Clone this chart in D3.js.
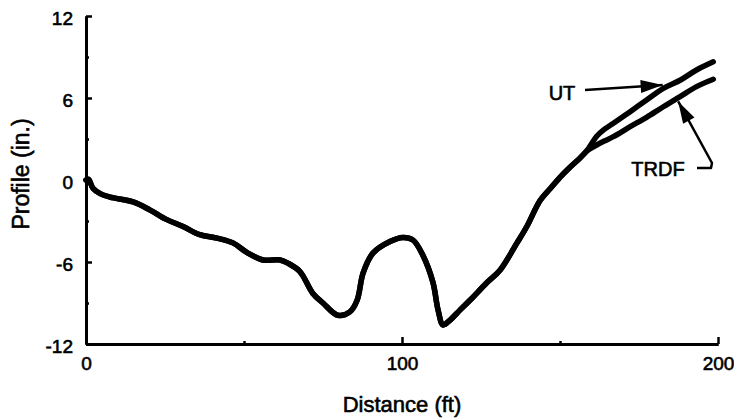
<!DOCTYPE html>
<html>
<head>
<meta charset="utf-8">
<script src="https://cdn.jsdelivr.net/npm/d3@7"></script>
<style>
  body { margin: 0; background: #fff; }
  text { font-family: "Liberation Sans", Arial, sans-serif; fill: #000; }
</style>
</head>
<body>
<div class="board"></div>
<script>
// profile data (distance in ft, profile in in.)
var distance = [0, 0.8, 2.2, 4.5, 7.6, 14.9, 20.3, 25.6, 30.7, 36, 41.4, 46.5, 50.9, 56, 61.4, 64,
  67.7, 71.8, 75, 79.7, 83.5, 85.8, 87.7, 90.8, 96.2, 100.3, 103.5, 106.6, 109.8, 111.4, 113,
  115.2, 118.4, 121.5, 126.9, 131, 136.4, 139.5, 143.7, 147, 150, 153, 156.3, 159, 161.6,
  164, 166.9, 172.2, 177.4, 182.7, 188, 193.2, 198.5];

var ut = [0, 0.05, -0.6, -1.0, -1.25, -1.6, -2.2, -2.9, -3.4, -4.0, -4.25, -4.6, -5.3, -5.85, -5.85, -6.1,
  -6.7, -8.3, -9.0, -9.9, -9.65, -8.8, -6.8, -5.35, -4.5, -4.2, -4.4, -5.5, -7.5, -9.5, -10.6,
  -10.25, -9.5, -8.8, -7.5, -6.6, -4.6, -3.4, -1.5, -0.6, 0.2, 0.9, 1.6, 2.3, 3.2,
  3.7, 4.15, 5.0, 5.85, 6.7, 7.3, 8.05, 8.65];

var trdf = [0, 0.05, -0.6, -1.0, -1.25, -1.6, -2.2, -2.9, -3.4, -4.0, -4.25, -4.6, -5.3, -5.85, -5.85, -6.1,
  -6.7, -8.3, -9.0, -9.9, -9.65, -8.8, -6.8, -5.35, -4.5, -4.2, -4.4, -5.5, -7.5, -9.5, -10.6,
  -10.25, -9.5, -8.8, -7.5, -6.6, -4.6, -3.4, -1.5, -0.6, 0.2, 0.9, 1.6, 2.2, 2.56,
  2.85, 3.17, 3.9, 4.59, 5.36, 6.1, 6.83, 7.37];

var xTicks = [0, 100, 200];
var xMinor = [50, 150];
var yTicks = [-12, -6, 0, 6, 12];
var yMinor = [-9, -3, 3, 9];

var W = 734, H = 419;
var margin = {top: 16, right: 16, bottom: 75, left: 86};

var svg = d3.select('.board')
  .append('svg')
  .attr('width', W)
  .attr('height', H);

var x = d3.scaleLinear().domain([0, 200]).range([margin.left, W - margin.right]);
var y = d3.scaleLinear().domain([-12, 12]).range([H - margin.bottom, margin.top]);

// plain hyphen for negatives, as in the scan
var fmt = function(d) { return String(d); };

// axes: ticks point inward like the original
var xAxis = svg.append('g')
  .attr('transform', 'translate(0,' + y(-12) + ')')
  .call(d3.axisBottom(x).tickValues(xTicks).tickFormat(fmt).tickSize(-7).tickPadding(13).tickSizeOuter(0));
svg.append('g')
  .attr('transform', 'translate(0,' + y(-12) + ')')
  .call(d3.axisBottom(x).tickValues(xMinor).tickSize(-3).tickFormat('').tickSizeOuter(0));

var yAxis = svg.append('g')
  .attr('transform', 'translate(' + x(0) + ',0)')
  .call(d3.axisLeft(y).tickValues(yTicks).tickFormat(fmt).tickSize(-6).tickPadding(13).tickSizeOuter(0));
svg.append('g')
  .attr('transform', 'translate(' + x(0) + ',0)')
  .call(d3.axisLeft(y).tickValues(yMinor).tickSize(-3).tickFormat('').tickSizeOuter(0));

svg.selectAll('.domain').attr('stroke', '#000').attr('stroke-width', 3);
svg.selectAll('.tick line').attr('stroke', '#000').attr('stroke-width', 2.5);
svg.selectAll('.tick text')
  .style('font-size', '19px')
  .style('font-family', '"Liberation Sans", Arial, sans-serif')
  .attr('fill', '#000')
  .attr('stroke', '#000')
  .attr('stroke-width', 0.6);
xAxis.selectAll('.tick text').attr('dy', '0.71em');
yAxis.selectAll('.tick text').attr('dy', '0.45em');

// axis titles
svg.append('text')
  .attr('x', x(100))
  .attr('y', 412)
  .attr('text-anchor', 'middle')
  .style('font-size', '22px')
  .attr('stroke', '#000').attr('stroke-width', 0.6)
  .text('Distance (ft)');

svg.append('text')
  .attr('transform', 'translate(29,' + 174 + ') rotate(-90)')
  .attr('text-anchor', 'middle')
  .style('font-size', '23px')
  .attr('stroke', '#000').attr('stroke-width', 0.6)
  .text('Profile (in.)');

// profile lines
var line = d3.line()
  .x(function(d) { return x(d[0]); })
  .y(function(d) { return y(d[1]); })
  .curve(d3.curveCatmullRom);

[ut, trdf].forEach(function(series) {
  svg.append('path')
    .datum(distance.map(function(d, i) { return [d, series[i]]; }))
    .attr('d', line)
    .attr('fill', 'none')
    .attr('stroke', '#000')
    .attr('stroke-width', 5.5)
    .attr('stroke-linejoin', 'round')
    .attr('stroke-linecap', 'round');
});

// arrowhead helper
function arrowHead(tip, from, len, half) {
  var dx = tip[0] - from[0], dy = tip[1] - from[1];
  var l = Math.sqrt(dx * dx + dy * dy);
  var ux = dx / l, uy = dy / l;
  var bx = tip[0] - ux * len, by = tip[1] - uy * len;
  var pts = [tip, [bx - uy * half, by + ux * half], [bx + uy * half, by - ux * half]];
  svg.append('path')
    .attr('d', 'M' + pts.join('L') + 'Z')
    .attr('fill', '#000');
}

// UT label and arrow
svg.append('text')
  .attr('x', 562).attr('y', 100)
  .attr('text-anchor', 'middle')
  .style('font-size', '20px')
  .attr('stroke', '#000').attr('stroke-width', 0.6)
  .text('UT');
var utTip = [x(182.5), y(6.95)];
var utFrom = [585, 90];
svg.append('path')
  .attr('d', 'M' + utFrom + 'L' + utTip)
  .attr('stroke', '#000').attr('stroke-width', 2.5).attr('fill', 'none');
arrowHead(utTip, utFrom, 22, 6.5);

// TRDF label and arrow
svg.append('text')
  .attr('x', 658).attr('y', 176)
  .attr('text-anchor', 'middle')
  .style('font-size', '20px')
  .attr('stroke', '#000').attr('stroke-width', 0.6)
  .text('TRDF');
var trTip = [x(187.4), y(5.75)];
var trBend = [712, 163];
svg.append('path')
  .attr('d', 'M697,168L711,168L' + trBend + 'L' + trTip)
  .attr('stroke', '#000').attr('stroke-width', 2.5).attr('fill', 'none')
  .attr('stroke-linejoin', 'round');
arrowHead(trTip, trBend, 22, 6.5);
</script>
</body>
</html>
